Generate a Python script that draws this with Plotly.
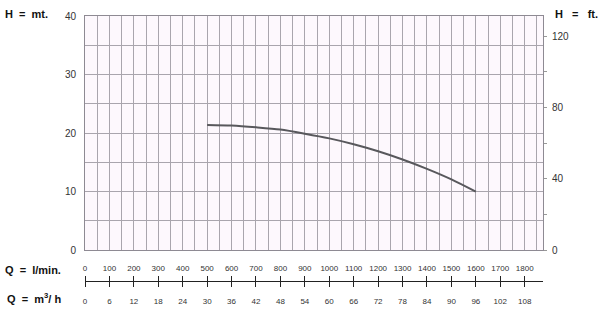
import plotly.graph_objects as go

# ---- data ----
flow_lmin = [500, 600, 700, 800, 900, 1000, 1100, 1200, 1300, 1400, 1500, 1600]
head_m = [21.4, 21.3, 21.0, 20.6, 19.9, 19.1, 18.1, 16.9, 15.5, 13.9, 12.1, 10.0]

lmin_ticks = list(range(0, 1900, 100))
m3h_ticks = list(range(0, 114, 6))
m_ticks = [0, 10, 20, 30, 40]
ft_ticks = [0, 40, 80, 120]

Q_MAX = 1875
H_MAX = 40
M_TO_FT = 3.28084
LMIN_TO_M3H = 0.06

grid_col = "#a9a5ad"
border_col = "#8e8a93"
txt_col = "#333333"
font_fam = "Liberation Sans, Arial, sans-serif"

fig = go.Figure()

fig.add_trace(go.Scatter(
    x=flow_lmin, y=head_m, mode="lines",
    line=dict(color="#58585c", width=2, shape="spline", smoothing=0.8),
    showlegend=False, hoverinfo="skip"))

# dummy traces so the extra axes are drawn
fig.add_trace(go.Scatter(x=[0], y=[None], xaxis="x2", yaxis="y",
                         showlegend=False, hoverinfo="skip", mode="markers"))
fig.add_trace(go.Scatter(x=[0], y=[None], xaxis="x3", yaxis="y",
                         showlegend=False, hoverinfo="skip", mode="markers"))
fig.add_trace(go.Scatter(x=[None], y=[0], xaxis="x", yaxis="y2",
                         showlegend=False, hoverinfo="skip", mode="markers"))

ydom0 = (307 - 255) / 292
axis_pos = (307 - 286.5) / 292

fig.update_layout(
    width=600, height=317,
    margin=dict(l=85, r=57, t=15, b=10),
    paper_bgcolor="white",
    plot_bgcolor="#fdf8fd",
    font=dict(family=font_fam, color=txt_col),
    xaxis=dict(
        range=[0, Q_MAX], dtick=50, showgrid=True, gridcolor=grid_col, gridwidth=1,
        showticklabels=False, ticks="", zeroline=False,
        showline=True, mirror=True, linecolor=border_col, linewidth=1,
        fixedrange=True),
    yaxis=dict(
        domain=[ydom0, 1], range=[0, H_MAX], tickvals=m_ticks,
        showgrid=True, gridcolor=grid_col, gridwidth=1,
        minor=dict(dtick=5, showgrid=True, gridcolor=grid_col, gridwidth=1),
        zeroline=False, showline=True, mirror=True, linecolor=border_col,
        ticks="", ticklabelstandoff=6,
        tickfont=dict(size=10, color=txt_col)),
    yaxis2=dict(
        overlaying="y", side="right", anchor="x",
        range=[0, H_MAX * M_TO_FT], tickvals=ft_ticks,
        showgrid=False, zeroline=False, ticks="outside", ticklen=3,
        tickcolor="#999999", ticklabelstandoff=3,
        minor=dict(tick0=0, dtick=20, ticks="outside", ticklen=3,
                   tickcolor="#999999", showgrid=False),
        tickfont=dict(size=10, color=txt_col)),
    xaxis2=dict(
        overlaying="x", anchor="free", position=axis_pos, side="top",
        range=[0, Q_MAX], tickvals=lmin_ticks, showgrid=False, zeroline=False,
        showline=True, linecolor="#222222", linewidth=1,
        ticks="outside", ticklen=5, tickcolor="#222222", ticklabelstandoff=2,
        tickfont=dict(size=8, color=txt_col)),
    xaxis3=dict(
        overlaying="x", anchor="free", position=axis_pos, side="bottom",
        range=[0, Q_MAX * LMIN_TO_M3H], tickvals=m3h_ticks, showgrid=False,
        zeroline=False, showline=True, linecolor="#222222", linewidth=1,
        ticks="outside", ticklen=5, tickcolor="#222222", ticklabelstandoff=7,
        tickfont=dict(size=8, color=txt_col)),
)

label_font = dict(family="Liberation Sans, Arial, sans-serif", size=11, color="#111111")
for text, x, y in [
    ("<b>H  =  mt.</b>", 3, 13),
    ("<b>H   =   ft.</b>", 553, 13),
    ("<b>Q  =  l/min.</b>", 3, 275),
    ("<b>Q  =  m<sup>3</sup>/ h</b>", 5, 304),
]:
    fig.add_annotation(text=text, xref="paper", yref="paper",
                       x=(x - 85) / 458, y=(307 - y) / 292,
                       xanchor="left", yanchor="middle", showarrow=False,
                       font=label_font)

fig.write_html("out.html")
